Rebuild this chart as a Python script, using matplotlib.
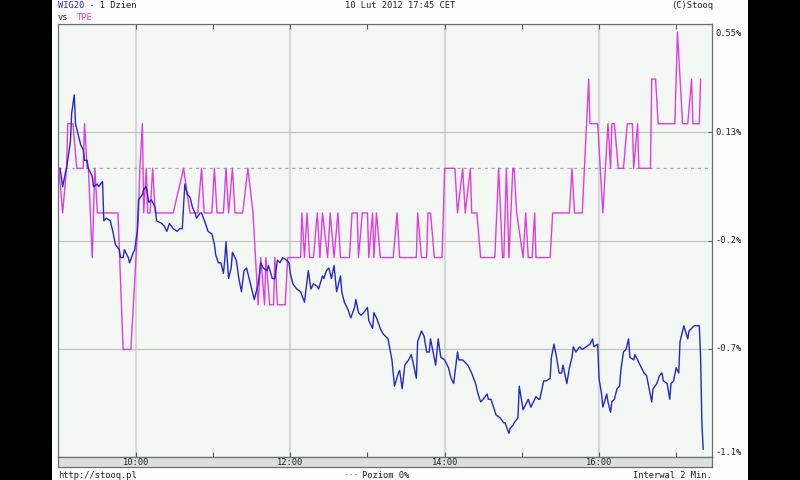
import matplotlib
matplotlib.use("Agg")
import matplotlib.pyplot as plt
from matplotlib.patches import Rectangle
from matplotlib.transforms import blended_transform_factory

# ──────────────────────────────────────────────
# Data: intraday % change, minutes after 09:00
# ──────────────────────────────────────────────
wig20_min = [
    1, 3, 5, 6, 9, 10, 12, 13, 15, 17,
    19, 20, 22, 23, 26, 27, 30, 31, 34, 35,
    37, 40, 42, 44, 47, 48, 50, 51, 54, 55,
    58, 59, 61, 62, 65, 66, 68, 70, 72, 75,
    76, 80, 82, 84, 86, 89, 92, 94, 96, 98,
    100, 102, 104, 106, 107, 110, 111, 114, 116, 119,
    121, 122, 124, 126, 128, 129, 130, 131, 132, 134,
    135, 138, 140, 142, 144, 146, 148, 150, 152, 154,
    155, 157, 159, 162, 163, 166, 168, 170, 172, 174,
    177, 179, 180, 182, 185, 188, 191, 194, 196, 198,
    201, 202, 205, 206, 208, 210, 212, 214, 216, 219,
    220, 222, 225, 227, 230, 231, 233, 235, 237, 240,
    241, 244, 245, 247, 250, 252, 256, 259, 261, 264,
    265, 267, 269, 272, 274, 275, 278, 279, 282, 284,
    286, 288, 289, 291, 293, 295, 297, 300, 303, 305,
    307, 310, 311, 314, 318, 321, 324, 326, 328, 330,
    333, 334, 336, 338, 340, 343, 346, 347, 350, 351,
    353, 354, 357, 358, 361, 363, 365, 367, 369, 371,
    373, 374, 377, 379, 382, 383, 385, 387, 389, 391,
    392, 395, 397, 399, 400, 402, 405, 407, 410, 413,
    415, 416, 419, 420, 422, 423, 426, 427, 429, 430,
    432, 434, 436, 437, 439, 441, 443, 444, 447, 448,
    451, 452, 455, 457, 459, 461, 462, 465, 467, 469,
    470, 473, 475, 476, 478, 480, 482, 483, 486, 489,
    490, 494, 495, 497, 498, 499, 500, 501,
]
wig20_pct = [
    0.00, -0.07, -0.02, 0.00, 0.10, 0.21, 0.28, 0.17, 0.13, 0.09,
    0.07, 0.03, 0.03, 0.00, -0.03, -0.07, -0.06, -0.07, -0.05, -0.20,
    -0.19, -0.20, -0.24, -0.29, -0.31, -0.34, -0.34, -0.31, -0.34, -0.36,
    -0.32, -0.31, -0.24, -0.12, -0.10, -0.08, -0.07, -0.13, -0.12, -0.15,
    -0.20, -0.21, -0.22, -0.24, -0.21, -0.23, -0.24, -0.23, -0.23, -0.06,
    -0.10, -0.11, -0.15, -0.17, -0.19, -0.17, -0.17, -0.21, -0.24, -0.25,
    -0.29, -0.33, -0.36, -0.36, -0.40, -0.35, -0.28, -0.35, -0.42, -0.38,
    -0.32, -0.35, -0.42, -0.47, -0.39, -0.38, -0.42, -0.46, -0.50, -0.46,
    -0.44, -0.36, -0.38, -0.39, -0.37, -0.42, -0.42, -0.35, -0.36, -0.34,
    -0.35, -0.36, -0.40, -0.44, -0.46, -0.47, -0.51, -0.39, -0.46, -0.44,
    -0.45, -0.46, -0.41, -0.42, -0.39, -0.38, -0.42, -0.37, -0.47, -0.41,
    -0.47, -0.51, -0.54, -0.57, -0.53, -0.50, -0.55, -0.56, -0.55, -0.53,
    -0.58, -0.61, -0.55, -0.57, -0.61, -0.63, -0.65, -0.73, -0.83, -0.78,
    -0.77, -0.84, -0.75, -0.73, -0.71, -0.73, -0.80, -0.66, -0.62, -0.64,
    -0.70, -0.70, -0.65, -0.70, -0.75, -0.65, -0.72, -0.73, -0.76, -0.80,
    -0.82, -0.70, -0.73, -0.73, -0.75, -0.78, -0.82, -0.86, -0.89, -0.88,
    -0.86, -0.88, -0.88, -0.91, -0.94, -0.95, -0.97, -0.97, -1.01, -0.99,
    -0.98, -0.97, -0.95, -0.83, -0.92, -0.90, -0.88, -0.91, -0.89, -0.87,
    -0.88, -0.88, -0.81, -0.81, -0.80, -0.72, -0.67, -0.72, -0.78, -0.78,
    -0.75, -0.82, -0.76, -0.72, -0.68, -0.70, -0.68, -0.69, -0.68, -0.67,
    -0.65, -0.68, -0.67, -0.80, -0.86, -0.91, -0.86, -0.89, -0.93, -0.89,
    -0.88, -0.84, -0.83, -0.77, -0.70, -0.69, -0.65, -0.72, -0.73, -0.71,
    -0.74, -0.75, -0.78, -0.79, -0.84, -0.89, -0.84, -0.82, -0.79, -0.78,
    -0.81, -0.82, -0.88, -0.82, -0.81, -0.76, -0.78, -0.66, -0.60, -0.65,
    -0.62, -0.60, -0.60, -0.60, -0.60, -0.72, -0.97, -1.07,
]

tpe_min = [
    0, 3, 6, 7, 11, 14, 19, 20, 22, 23,
    26, 28, 30, 46, 50, 56, 58, 60, 62, 63,
    65, 66, 68, 69, 71, 73, 75, 89, 97, 102,
    108, 111, 113, 119, 121, 123, 128, 130, 132, 135,
    137, 143, 147, 151, 155, 157, 160, 161, 164, 167,
    168, 170, 176, 178, 188, 189, 191, 193, 195, 198,
    201, 203, 205, 209, 211, 214, 217, 219, 226, 228,
    232, 233, 236, 240, 241, 244, 245, 247, 250, 260,
    263, 265, 278, 279, 282, 286, 287, 289, 292, 298,
    300, 308, 310, 314, 316, 320, 321, 325, 328, 339,
    342, 345, 346, 348, 350, 353, 354, 356, 361, 363,
    365, 368, 370, 371, 382, 384, 397, 399, 401, 407,
    412, 413, 419, 423, 427, 429, 430, 432, 435, 439,
    442, 446, 447, 450, 451, 460, 461, 464, 466, 479,
    481, 485, 489, 492, 493, 498, 499,
]
tpe_pct = [
    0.00, -0.17, 0.00, 0.17, 0.17, 0.00, 0.00, 0.17, 0.00, 0.00,
    -0.34, 0.00, -0.17, -0.17, -0.69, -0.69, -0.52, -0.34, -0.17, 0.00,
    0.17, -0.17, 0.00, -0.17, -0.17, 0.00, -0.17, -0.17, 0.00, -0.17,
    -0.17, 0.00, -0.17, -0.17, 0.00, -0.17, -0.17, 0.00, -0.17, 0.00,
    -0.17, -0.17, 0.00, -0.17, -0.52, -0.34, -0.52, -0.34, -0.52, -0.52,
    -0.34, -0.52, -0.52, -0.34, -0.34, -0.17, -0.34, -0.17, -0.34, -0.34,
    -0.17, -0.34, -0.17, -0.34, -0.17, -0.34, -0.17, -0.34, -0.34, -0.17,
    -0.17, -0.34, -0.17, -0.17, -0.34, -0.17, -0.34, -0.17, -0.34, -0.34,
    -0.17, -0.34, -0.34, -0.17, -0.34, -0.34, -0.17, -0.17, -0.34, -0.34,
    0.00, 0.00, -0.17, 0.00, -0.17, 0.00, -0.17, -0.17, -0.34, -0.34,
    0.00, -0.34, -0.34, 0.00, -0.34, 0.00, 0.00, -0.17, -0.34, -0.17,
    -0.34, -0.34, -0.17, -0.34, -0.34, -0.17, -0.17, 0.00, -0.17, -0.17,
    0.34, 0.17, 0.17, -0.17, 0.17, 0.00, 0.17, 0.17, 0.00, 0.00,
    0.17, 0.17, 0.00, 0.17, 0.00, 0.00, 0.34, 0.34, 0.17, 0.17,
    0.52, 0.17, 0.17, 0.34, 0.17, 0.17, 0.34,
]

hour_ticks = [10, 12, 14, 16]
hour_labels = ["10:00", "12:00", "14:00", "16:00"]
minor_hours = [11, 13, 15, 17]
ylim = (-1.1, 0.55)
grid_levels = [0.1375, -0.275, -0.6875]
ytick_labels = ["0.55%", "0.13%", "-0.2%", "-0.7%", "-1.1%"]

BLUE = "#2626CC"
PINK = "#E03CE0"
FONT = "DejaVu Sans Mono"
FS = 6.3

# ──────────────────────────────────────────────
# Figure layout (pixel based, 800x480)
# ──────────────────────────────────────────────
W, H = 800, 480
L, R, T, B, BAND = 58, 712, 24, 457, 467


def fx(px):
    return px / W


def fy(py):
    return 1 - py / H


fig = plt.figure(figsize=(8, 4.8), dpi=100, facecolor="black")
fig.patches.append(Rectangle((fx(52), 0), fx(748) - fx(52), 1, transform=fig.transFigure,
                             facecolor="#FCFDFC", edgecolor="none", zorder=-5))

ax = fig.add_axes([fx(L), fy(B), fx(R) - fx(L), fy(T) - fy(B)])
ax.set_facecolor("#F4F8F4")
x_left = 9 - 0.8 / 77.17
x_right = 9 + (R - 58.8) / 77.17
ax.set_xlim(x_left, x_right)
ax.set_ylim(*ylim)

for h in hour_ticks:
    ax.axvline(h, color="#D6DAD6", lw=1.6, zorder=1)
for g in grid_levels:
    ax.axhline(g, color="#C2C4C2", lw=0.9, zorder=1)
ax.axhline(0, color="#A8A8A8", lw=0.9, ls=(0, (2.5, 3)), zorder=1)

wig_h = [9 + m / 60 for m in wig20_min]
tpe_h = [9 + m / 60 for m in tpe_min]
ax.plot(tpe_h, tpe_pct, color=PINK, lw=1.0, zorder=3)
ax.plot(wig_h, wig20_pct, color=BLUE, lw=1.0, zorder=4)

ax.set_xticks(hour_ticks + minor_hours)
ax.set_xticklabels([])
ax.tick_params(axis="x", direction="in", length=3.5, top=True, bottom=True,
               color="#555555", width=0.8)
ax.set_yticks([ylim[1]] + grid_levels + [ylim[0]])
ax.set_yticklabels([])
ax.yaxis.tick_right()
ax.tick_params(axis="y", direction="in", length=3, color="#555555", width=0.8)
for s in ax.spines.values():
    s.set_color("#6E6E6E")
    s.set_linewidth(0.9)

# right-hand value labels
tr = blended_transform_factory(fig.transFigure, ax.transData)
label_y = [ylim[1] - 9 / 261.8] + grid_levels + [ylim[0] + 4 / 261.8]
for yv, lab in zip(label_y, ytick_labels):
    ax.text(fx(715), yv, lab, transform=tr, fontsize=FS, family=FONT,
            color="#222222", va="center", ha="left", clip_on=False)

# time band under the plot
band = fig.add_axes([fx(L), fy(BAND), fx(R) - fx(L), fy(B) - fy(BAND)])
band.set_facecolor("#DCDFDC")
band.set_xlim(x_left, x_right)
band.set_ylim(0, 1)
band.set_xticks([])
band.set_yticks([])
for s in band.spines.values():
    s.set_color("#6E6E6E")
    s.set_linewidth(0.9)
for h, lab in zip(hour_ticks, hour_labels):
    band.text(h, 0.45, lab, fontsize=FS, family=FONT, color="#222222",
              ha="center", va="center")


# header / footer texts
def ftext(px, py, s, color="#222222", ha="left"):
    fig.text(fx(px), fy(py), s, fontsize=FS, family=FONT, color=color,
             ha=ha, va="center")


ftext(58, 6, "WIG20", BLUE)
ftext(84, 6, " - 1 Dzien")
ftext(58, 18, "vs")
ftext(77, 18, "TPE", PINK)
ftext(345, 6, "10 Lut 2012 17:45 CET")
ftext(713, 6, "(C)Stooq", ha="right")
ftext(58, 475, "http://stooq.pl")
ftext(343, 475, "---", "#999999")
ftext(362, 475, "Poziom 0%")
ftext(712, 475, "Interwal 2 Min.", ha="right")

fig.savefig("out.png", dpi=100, facecolor=fig.get_facecolor())
